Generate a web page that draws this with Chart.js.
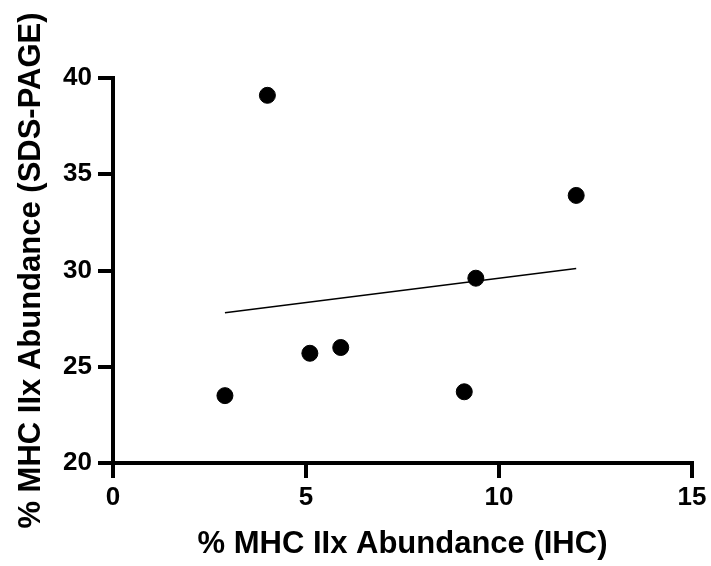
<!DOCTYPE html>
<html>
<head>
<meta charset="utf-8">
<script src="https://cdn.jsdelivr.net/npm/chart.js@4/dist/chart.umd.min.js"></script>
<style>
  body { margin: 0; background: #fff; }
  #wrap { width: 711px; height: 566px; }
</style>
</head>
<body>
<div id="wrap"><canvas id="myChart" width="711" height="566"></canvas></div>
<script>
// values
const ihcValues = [4.0, 12.0, 9.4, 5.1, 5.9, 2.9, 9.1];
const sdsValues = [39.1, 33.9, 29.6, 25.7, 26.0, 23.5, 23.7];
const fitX = [2.9, 12.0];
const fitY = [27.8, 30.1];
const xTicks = [0, 5, 10, 15];
const yTicks = [20, 25, 30, 35, 40];

const xTitle = '% MHC IIx Abundance (IHC)';
const yTitle = '% MHC IIx Abundance (SDS-PAGE)';

const fontFamily = "'Liberation Sans', Arial, sans-serif";

const points = ihcValues.map((x, i) => ({ x: x, y: sdsValues[i] }));
const fitLine = fitX.map((x, i) => ({ x: x, y: fitY[i] }));

const ctx = document.getElementById('myChart').getContext('2d');
new Chart(ctx, {
    type: 'scatter',
    data: {
        datasets: [{
            label: 'data',
            data: points,
            backgroundColor: '#000',
            borderColor: '#000',
            pointRadius: 8,
            pointHoverRadius: 8
        }, {
            label: 'fit',
            type: 'line',
            data: fitLine,
            borderColor: '#000',
            borderWidth: 1.5,
            pointRadius: 0,
            fill: false
        }]
    },
    options: {
        responsive: false,
        animation: false,
        layout: { padding: { left: 0, right: 19, top: 78, bottom: 0 } },
        plugins: {
            legend: { display: false },
            tooltip: { enabled: false }
        },
        scales: {
            x: {
                type: 'linear',
                min: 0,
                max: 15,
                afterBuildTicks: (scale) => { scale.ticks = xTicks.map(v => ({ value: v })); },
                afterFit: (scale) => { scale.height = 103; },
                border: { display: true, color: '#000', width: 4 },
                grid: { drawOnChartArea: false, drawTicks: true, tickLength: 15, lineWidth: 4, color: '#000' },
                ticks: { color: '#000', padding: 4, maxRotation: 0, font: { family: fontFamily, size: 26, weight: 'bold' } },
                title: {
                    display: true,
                    text: xTitle,
                    color: '#000',
                    padding: { top: 0, bottom: 3 },
                    font: { family: fontFamily, size: 31, weight: 'bold' }
                }
            },
            y: {
                type: 'linear',
                min: 20,
                max: 40,
                afterBuildTicks: (scale) => { scale.ticks = yTicks.map(v => ({ value: v })); },
                afterFit: (scale) => { scale.width = 113; },
                border: { display: true, color: '#000', width: 4 },
                grid: { drawOnChartArea: false, drawTicks: true, tickLength: 15, lineWidth: 4, color: '#000' },
                ticks: { color: '#000', padding: 6, font: { family: fontFamily, size: 26, weight: 'bold' } },
                title: {
                    display: true,
                    text: yTitle,
                    color: '#000',
                    padding: { top: 13, bottom: 0 },
                    font: { family: fontFamily, size: 31, weight: 'bold' }
                }
            }
        }
    }
});
</script>
</body>
</html>
